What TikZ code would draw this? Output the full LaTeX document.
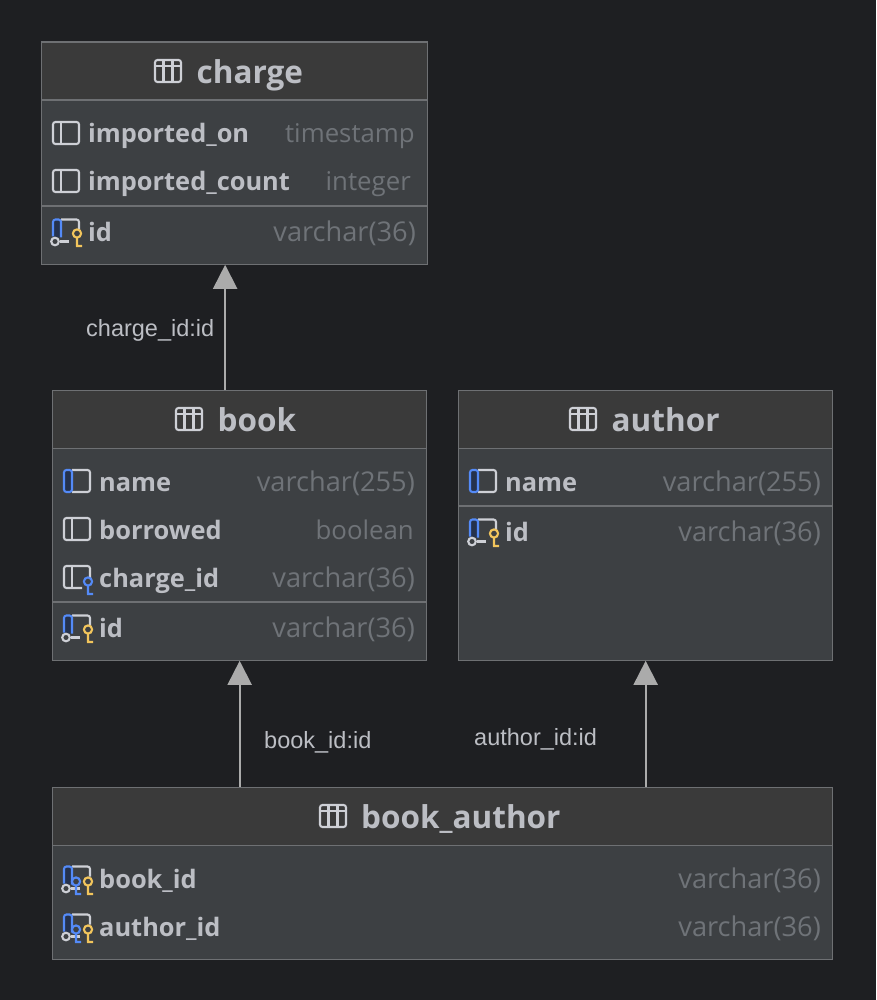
\documentclass[tikz,border=0pt]{standalone}
\usepackage{fontspec}
\setmainfont{Open Sans}
\newfontfamily\labelfont{Liberation Sans}
\usetikzlibrary{arrows.meta}
\definecolor{pagebg}{HTML}{1E1F22}
\definecolor{headbg}{HTML}{3A3A3A}
\definecolor{bodybg}{HTML}{3D4043}
\definecolor{edgecol}{HTML}{6E7073}
\definecolor{namecol}{HTML}{BCBEC4}
\definecolor{typecol}{HTML}{6F7378}
\definecolor{linkcol}{HTML}{ABABAB}
\definecolor{iconcol}{HTML}{CED0D6}
\definecolor{bluecol}{HTML}{548AF7}
\definecolor{darkblue}{HTML}{25324D}
\definecolor{keycol}{HTML}{F2C55C}
\tikzset{
	tablebox/.style={draw=edgecol,fill=bodybg,line width=1.3pt,anchor=north west,inner sep=0pt},
	headbox/.style={draw=edgecol,fill=headbg,line width=1.3pt,anchor=north west,inner sep=0pt,minimum height=58pt},
	headtext/.style={anchor=base west,inner sep=0pt,text=namecol,font=\fontsize{31.5}{31.5}\selectfont\bfseries},
	colname/.style={anchor=base west,inner sep=0pt,text=namecol,font=\fontsize{25.4}{25.4}\selectfont\bfseries},
	coltype/.style={anchor=base east,inner sep=0pt,text=typecol,font=\fontsize{27.2}{27.2}\selectfont},
	wordtype/.style={coltype,font=\fontsize{25.8}{25.8}\selectfont},
	linktext/.style={anchor=base west,inner sep=0pt,text=namecol,font=\fontsize{23.5}{23.5}\labelfont},
	sepline/.style={draw=edgecol,line width=2pt},
	reflink/.style={draw=linkcol,line width=2pt,-{Triangle[width=24pt,length=24pt]}},
	pics/tableicon/.style={code={
		\draw[iconcol,line width=2.1pt,rounded corners=2.5pt] (-13,-11) rectangle (13,11);
		\draw[iconcol,line width=2.1pt] (-13,-5) -- (13,-5) (-4.5,-11) -- (-4.5,11) (4.5,-11) -- (4.5,11);
	}},
	pics/colicon/.style={code={
		\draw[iconcol,line width=2.1pt,rounded corners=2.5pt] (-13,-11) rectangle (13,11);
		\draw[iconcol,line width=2.1pt] (-5,-11) -- (-5,11);
	}},
	pics/reqicon/.style={code={
		\draw[iconcol,line width=2.1pt,rounded corners=2.5pt] (-5,-11) -- (13,-11) -- (13,11) -- (-5,11);
		\draw[bluecol,fill=darkblue,line width=2.1pt,rounded corners=2.5pt] (-5,-11) -- (-13,-11) -- (-13,11) -- (-5,11) -- cycle;
	}},
	pics/fkicon/.style={code={
		\draw[iconcol,line width=2.1pt,rounded corners=2.5pt] (13,2) -- (13,-11) -- (-13,-11) -- (-13,11) -- (5,11);
		\draw[iconcol,line width=2.1pt] (-5,-11) -- (-5,11);
	}},
	pics/pkframe/.style={code={
		\draw[iconcol,line width=2.1pt,rounded corners=2.5pt] (-5,-11) -- (13,-11) -- (13,-1);
		\draw[iconcol,line width=2.1pt] (-6,11) -- (3,11);
		\draw[bluecol,fill=darkblue,line width=2.1pt,rounded corners=2.5pt] (-5,7) -- (-5,-11) -- (-13,-11) -- (-13,6);
		\draw[fill=bodybg,draw=iconcol,line width=2.1pt] (-11,11) circle (3.8);
	}},
	pics/keyicon/.style={code={
		\draw[#1,line width=2.1pt] (0,-0.5) circle (4.1) (0,3.6) -- (0,12.5) (-1,12) -- (5,12);
	}},
}
\begin{document}
\begin{tikzpicture}[x=1pt,y=-1pt]
	\fill[pagebg] (0,0) rectangle (876,1000);
	\useasboundingbox (0,0) rectangle (876,1000);

	% charge
	\node[tablebox,minimum width=386pt,minimum height=222pt] (charge) at (40.5,41.5) {};
	\node[headbox,minimum width=386pt] (chargehead) at (charge.north west) {};
	\pic at (168,71) {tableicon};
	\node[headtext] (chargetitle) at (196.5,83.5) {charge};
	\pic at (66,133) {colicon};
	\node[colname] (chargeon) at (88,143) {imported\_on};
	\node[wordtype] (chargeontype) at (415,143) {timestamp};
	\pic at (66,181) {colicon};
	\node[colname] (chargecount) at (88,191) {imported\_count};
	\node[wordtype] (chargecounttype) at (411,191) {integer};
	\draw[sepline] (41,206) -- (427,206);
	\pic at (66,230.5) {pkframe};
	\pic at (77,234) {keyicon=keycol};
	\node[colname] (chargeid) at (88,241) {id};
	\node[coltype] (chargeidtype) at (416,241) {varchar(36)};

	% book
	\node[tablebox,minimum width=374pt,minimum height=270pt] (book) at (51.5,389.5) {};
	\node[headbox,minimum width=374pt] (bookhead) at (book.north west) {};
	\pic at (189,419) {tableicon};
	\node[headtext] (booktitle) at (217.5,431) {book};
	\pic at (77,481) {reqicon};
	\node[colname] (bookname) at (99,491) {name};
	\node[coltype] (booknametype) at (415,491) {varchar(255)};
	\pic at (77,529) {colicon};
	\node[colname] (bookborrowed) at (99,539) {borrowed};
	\node[wordtype] (bookborrowedtype) at (414,539) {boolean};
	\pic at (77,577) {fkicon};
	\pic at (88,582) {keyicon=bluecol};
	\node[colname] (bookcharge) at (99,587) {charge\_id};
	\node[coltype] (bookchargetype) at (415,587) {varchar(36)};
	\draw[sepline] (52,602) -- (426,602);
	\pic at (77,626.5) {pkframe};
	\pic at (88,630) {keyicon=keycol};
	\node[colname] (bookid) at (99,637) {id};
	\node[coltype] (bookidtype) at (415,637) {varchar(36)};

	% author
	\node[tablebox,minimum width=374pt,minimum height=270pt] (author) at (457.5,389.5) {};
	\node[headbox,minimum width=374pt] (authorhead) at (author.north west) {};
	\pic at (583,419) {tableicon};
	\node[headtext] (authortitle) at (611.5,431) {author};
	\pic at (483,481) {reqicon};
	\node[colname] (authorname) at (505,491) {name};
	\node[coltype] (authornametype) at (821,491) {varchar(255)};
	\draw[sepline] (458,506) -- (832,506);
	\pic at (483,530.5) {pkframe};
	\pic at (494,534) {keyicon=keycol};
	\node[colname] (authorid) at (505,541) {id};
	\node[coltype] (authoridtype) at (821,541) {varchar(36)};

	% book_author
	\node[tablebox,minimum width=780pt,minimum height=172pt] (bookauthor) at (51.5,786.5) {};
	\node[headbox,minimum width=780pt] (bookauthorhead) at (bookauthor.north west) {};
	\pic at (333,816) {tableicon};
	\node[headtext] (bookauthortitle) at (361,828) {book\_author};
	\pic at (77,877.5) {pkframe};
	\pic at (76,882) {keyicon=bluecol};
	\pic at (88,882) {keyicon=keycol};
	\node[colname] (babook) at (99,888) {book\_id};
	\node[coltype] (babooktype) at (821,888) {varchar(36)};
	\pic at (77,925.5) {pkframe};
	\pic at (76,930) {keyicon=bluecol};
	\pic at (88,930) {keyicon=keycol};
	\node[colname] (baauthor) at (99,936) {author\_id};
	\node[coltype] (baauthortype) at (821,936) {varchar(36)};

	% links
	\draw[reflink] ([xshift=-14pt]book.north) -- ([xshift=-9pt]charge.south);
	\draw[reflink] ([xshift=0.5pt]book.south |- bookauthor.north) -- ([xshift=0.5pt]book.south);
	\draw[reflink] ([xshift=0.5pt]author.south |- bookauthor.north) -- ([xshift=0.5pt]author.south);
	\node[linktext] (chargelink) at (86,336) {charge\_id:id};
	\node[linktext] (booklink) at (264,748) {book\_id:id};
	\node[linktext] (authorlink) at (474,745) {author\_id:id};
\end{tikzpicture}
\end{document}
